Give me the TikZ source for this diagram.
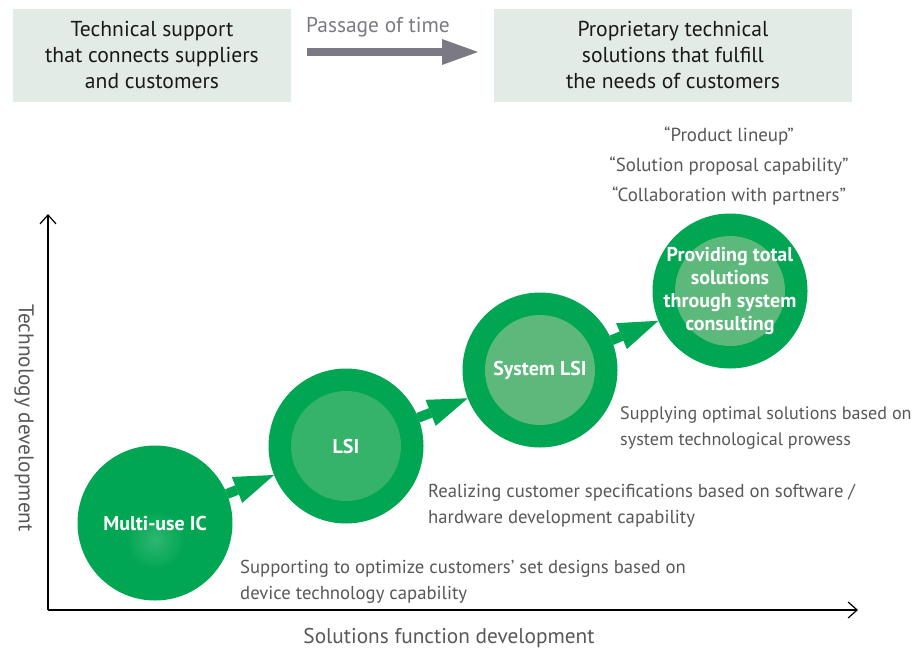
\documentclass[tikz,border=0pt]{standalone}
\usepackage{fontspec}
\setmainfont{PT Sans}
\usetikzlibrary{arrows.meta}

\definecolor{ringgreen}{HTML}{00A651}
\definecolor{lsigreen}{HTML}{35B36B}
\definecolor{coregreen}{HTML}{5CB97B}
\definecolor{boxgray}{HTML}{E3EBE6}
\definecolor{textgray}{HTML}{595757}
\definecolor{arrowgray}{HTML}{7B7A84}

\tikzset{
  headbox/.style={fill=boxgray, minimum height=93pt, inner sep=0pt, align=center,
    text=black!90, font=\fontsize{21.6}{26}\selectfont},
  ring/.style={circle, fill=ringgreen, minimum size=155pt, inner sep=0pt, outer sep=0pt},
  core/.style={circle, minimum size=110pt, inner sep=0pt},
  caption/.style={align=center, text=white, font=\bfseries\fontsize{20}{22.7}\selectfont},
  note/.style={anchor=west, align=left, inner sep=0pt, text=textgray,
    font=\fontsize{18.7}{26}\selectfont},
  axislabel/.style={text=textgray, font=\fontsize{21.3}{24}\selectfont},
  axis/.style={line width=1.2pt, -{Straight Barb[length=9pt,width=16pt]}},
  stepto/.style={line width=10pt, ringgreen, -{Triangle[length=40pt,width=28pt,line width=0pt]}},
}

\begin{document}
\begin{tikzpicture}[x=1pt, y=-1pt]
    \useasboundingbox (0,0) rectangle (917,651);

    % top row
    \node[headbox, minimum width=278pt] (before) at (152,55) {Technical support\\that connects suppliers\\and customers};
    \node[headbox, minimum width=358pt] (after) at (673,55) {Proprietary technical\\solutions that fulfill\\the needs of customers};
    \node[text=arrowgray, font=\fontsize{21.4}{24}\selectfont] (time) at (378,27) {Passage of time};
    \coordinate (tstart) at (307,52);
    \coordinate (tend) at (478,52);
    \draw[line width=8pt, arrowgray, -{Triangle[length=36pt,width=26pt,line width=0pt]}] (tstart) -- (tend);

    % axes
    \coordinate (origin) at (48,610);
    \coordinate (ytop) at (48,214);
    \coordinate (xend) at (858,610);
    \draw[axis] (origin) -- (ytop);
    \draw[axis] (origin) -- (xend);
    \node[axislabel, rotate=-90] (ylab) at (24,418) {Technology development};
    \node[axislabel] (xlab) at (449,638) {Solutions function development};

    % circles
    \foreach \n/\x/\y in {1/155/523, 2/346/446, 3/540/370, 4/730/291} {
        \node[ring] (ring\n) at (\x,\y) {};
    }
    \shade[inner color=ringgreen!82!white, outer color=ringgreen] (155,540) circle (30);
    \node[core, fill=lsigreen] (core2) at (ring2) {};
    \node[core, fill=coregreen] (core3) at (ring3) {};
    \node[core, fill=coregreen] (core4) at (ring4) {};

    \node[caption] (cap1) at (ring1) {Multi-use IC};
    \node[caption] (cap2) at (ring2) {LSI};
    \node[caption] (cap3) at (ring3) {System LSI};
    \node[caption] (cap4) at (ring4) {Providing total\\solutions\\through system\\consulting};

    \foreach \a/\b in {1/2, 2/3, 3/4} {
        \draw[stepto] (ring\a) -- (ring\b);
    }

    % notes
    \node[note] (note1) at (240,582) {Supporting to optimize customers’ set designs based on\\device technology capability};
    \node[note] (note2) at (428,506) {Realizing customer specifications based on software /\\hardware development capability};
    \node[note, font=\fontsize{18.1}{26}\selectfont] (note3) at (620,428) {Supplying optimal solutions based on\\system technological prowess};
    \node[align=center, text=textgray, font=\fontsize{18.9}{30}\selectfont] (claims) at (729,166) {“Product lineup”\\“Solution proposal capability”\\“Collaboration with partners”};
\end{tikzpicture}
\end{document}
